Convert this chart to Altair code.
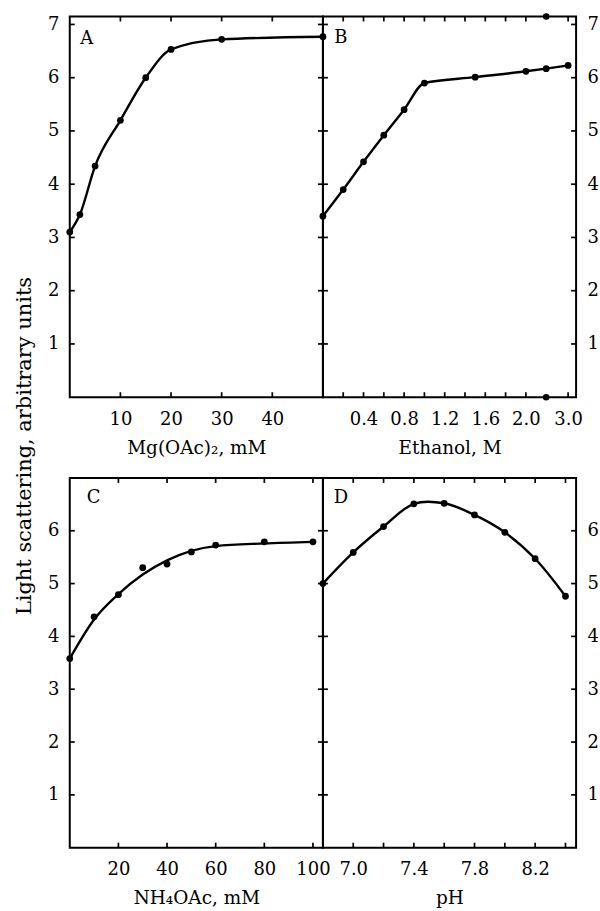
import altair as alt
import pandas as pd

FONT = "DejaVu Serif"

# ---------------- data ----------------
a_x = [0, 2, 5, 10, 15, 20, 30, 50]
a_y = [3.10, 3.43, 4.34, 5.20, 6.00, 6.53, 6.72, 6.77]

b_x = [0, 0.2, 0.4, 0.6, 0.8, 1.0, 1.5, 2.0, 2.2, 3.0]
b_y = [3.40, 3.90, 4.42, 4.92, 5.40, 5.90, 6.01, 6.12, 6.17, 6.23]

c_x = [0, 10, 20, 30, 40, 50, 60, 80, 100]
c_y = [3.58, 4.37, 4.79, 5.30, 5.37, 5.60, 5.73, 5.79, 5.79]
c_curve = [3.58, 4.32, 4.80, 5.17, 5.44, 5.62, 5.71, 5.76, 5.79]

d_x = [6.8, 7.0, 7.2, 7.4, 7.6, 7.8, 8.0, 8.2, 8.4]
d_y = [5.00, 5.59, 6.08, 6.51, 6.52, 6.30, 5.97, 5.47, 4.76]

a_labels = [10, 20, 30, 40]
b_labels = [0.4, 0.8, 1.2, 1.6, 2.0, 3.0]
c_labels = [20, 40, 60, 80, 100]
d_labels = [7.0, 7.4, 7.8, 8.2]

a_minor = [10, 20, 30, 40]
b_minor = [0.2, 0.4, 0.6, 0.8, 1.0, 1.2, 1.4, 1.6, 1.8, 2.0, 3.0]
b_break = [2.2]
c_minor = [20, 40, 60, 80, 100]
d_minor = [7.0, 7.2, 7.4, 7.6, 7.8, 8.0, 8.2, 8.4]

top_yticks = [1, 2, 3, 4, 5, 6, 7]
bottom_yticks = [1, 2, 3, 4, 5, 6]

y_title = "Light scattering, arbitrary units"
titles = ["Mg(OAc)₂, mM", "Ethanol, M", "NH₄OAc, mM", "pH"]
letters = ["A", "B", "C", "D"]

W = 254
H_TOP = 382
H_BOT = 371
TL = 5  # tick length


def panel(xs, ys, curve, interp, xscale, yscale, w, h, label_vals, fmt,
          minor, yvals, yorient, letter, lpos, title, extras=()):
    pts = pd.DataFrame({"x": xs, "y": ys})
    cur = pd.DataFrame({"x": xs, "y": curve})
    xaxis = alt.Axis(values=label_vals, format=fmt, title=title, ticks=False,
                     domain=False, grid=False, labelPadding=13, titlePadding=10,
                     labelFlush=False, labelOverlap=False)
    yaxis = alt.Axis(orient=yorient, values=yvals, format="d", title=None,
                     ticks=False, domain=False, grid=False, labelPadding=11,
                     labelFlush=False, labelOverlap=False)

    def X():
        return alt.X("x:Q", scale=xscale, axis=xaxis, title=title)

    def Y():
        return alt.Y("y:Q", scale=yscale, axis=yaxis, title=None)

    line = alt.Chart(cur).mark_line(color="black", strokeWidth=2.4,
                                    interpolate=interp).encode(x=X(), y=Y())
    dots = alt.Chart(pts).mark_circle(color="black", size=46, opacity=1).encode(x=X(), y=Y())

    xt = pd.DataFrame({"x": minor})
    yt = pd.DataFrame({"y": yvals})
    tick = dict(color="black", strokeWidth=1.7)
    top = alt.Chart(xt).mark_rule(**tick).encode(x=X(), y=alt.value(0), y2=alt.value(TL))
    bot = alt.Chart(xt).mark_rule(**tick).encode(x=X(), y=alt.value(h), y2=alt.value(h - TL))
    left = alt.Chart(yt).mark_rule(**tick).encode(y=Y(), x=alt.value(0), x2=alt.value(TL))
    right = alt.Chart(yt).mark_rule(**tick).encode(y=Y(), x=alt.value(w), x2=alt.value(w - TL))

    lab = alt.Chart(pd.DataFrame({"t": [letter]})).mark_text(
        font=FONT, fontSize=18, align="center", baseline="middle", color="black"
    ).encode(x=alt.value(lpos[0]), y=alt.value(lpos[1]), text="t:N")

    layers = [line, dots, top, bot, left, right, lab] + list(extras)
    return alt.layer(*layers).properties(width=w, height=h)


yscale_top = alt.Scale(domain=[0, 7.15], nice=False, zero=False)
yscale_bot = alt.Scale(domain=[0, 7.0], nice=False, zero=False)

# panel A extras: shared y title and a white anchor fixing the page offset
ytitle = alt.Chart(pd.DataFrame({"t": [y_title]})).mark_text(
    font=FONT, fontSize=21, angle=270, align="center", baseline="middle", color="black"
).encode(x=alt.value(-45), y=alt.value(431), text="t:N")
anchor = alt.Chart(pd.DataFrame({"t": [0]})).mark_rule(color="white", strokeWidth=1).encode(
    x=alt.value(-68.5), y=alt.value(-13.5), y2=alt.value(-11))

A = panel(a_x, a_y, a_y, "monotone",
          alt.Scale(domain=[0, 50], nice=False, zero=False), yscale_top,
          W, H_TOP, a_labels, "d", a_minor, top_yticks, "left",
          letters[0], (17, 23), titles[0], extras=[ytitle, anchor])

b_scale = alt.Scale(domain=[0, 2.2, 3.0, 3.29], range=[0, 224, 246, 254],
                    nice=False, zero=False)
brk = pd.DataFrame({"x": b_break})
brk_top = alt.Chart(brk).mark_circle(color="black", size=44, opacity=1).encode(
    x=alt.X("x:Q", scale=b_scale), y=alt.value(0))
brk_bot = alt.Chart(brk).mark_circle(color="black", size=44, opacity=1).encode(
    x=alt.X("x:Q", scale=b_scale), y=alt.value(H_TOP))

B = panel(b_x, b_y, b_y, "monotone", b_scale, yscale_top,
          W, H_TOP, b_labels, ".1f", b_minor, top_yticks, "right",
          letters[1], (18, 22), titles[1], extras=[brk_top, brk_bot])

C = panel(c_x, c_y, c_curve, "monotone",
          alt.Scale(domain=[0, 104.1], nice=False, zero=False), yscale_bot,
          W, H_BOT, c_labels, "d", c_minor, bottom_yticks, "left",
          letters[2], (24, 20), titles[2])

D = panel(d_x, d_y, d_y, "catmull-rom",
          alt.Scale(domain=[6.8, 8.47], nice=False, zero=False), yscale_bot,
          W, H_BOT, d_labels, ".1f", d_minor, bottom_yticks, "right",
          letters[3], (18, 20), titles[3])

chart = alt.concat(
    A, B, C, D, columns=2, spacing={"row": 81, "column": 0}, bounds="flush"
).configure_view(
    stroke="black", strokeWidth=2
).configure_axis(
    labelFont=FONT, labelFontSize=18, labelColor="black",
    titleFont=FONT, titleFontSize=18.5, titleFontWeight="normal", titleColor="black"
).properties(padding=0)

chart.save("out.html", embed_options={"renderer": "svg", "actions": False})
